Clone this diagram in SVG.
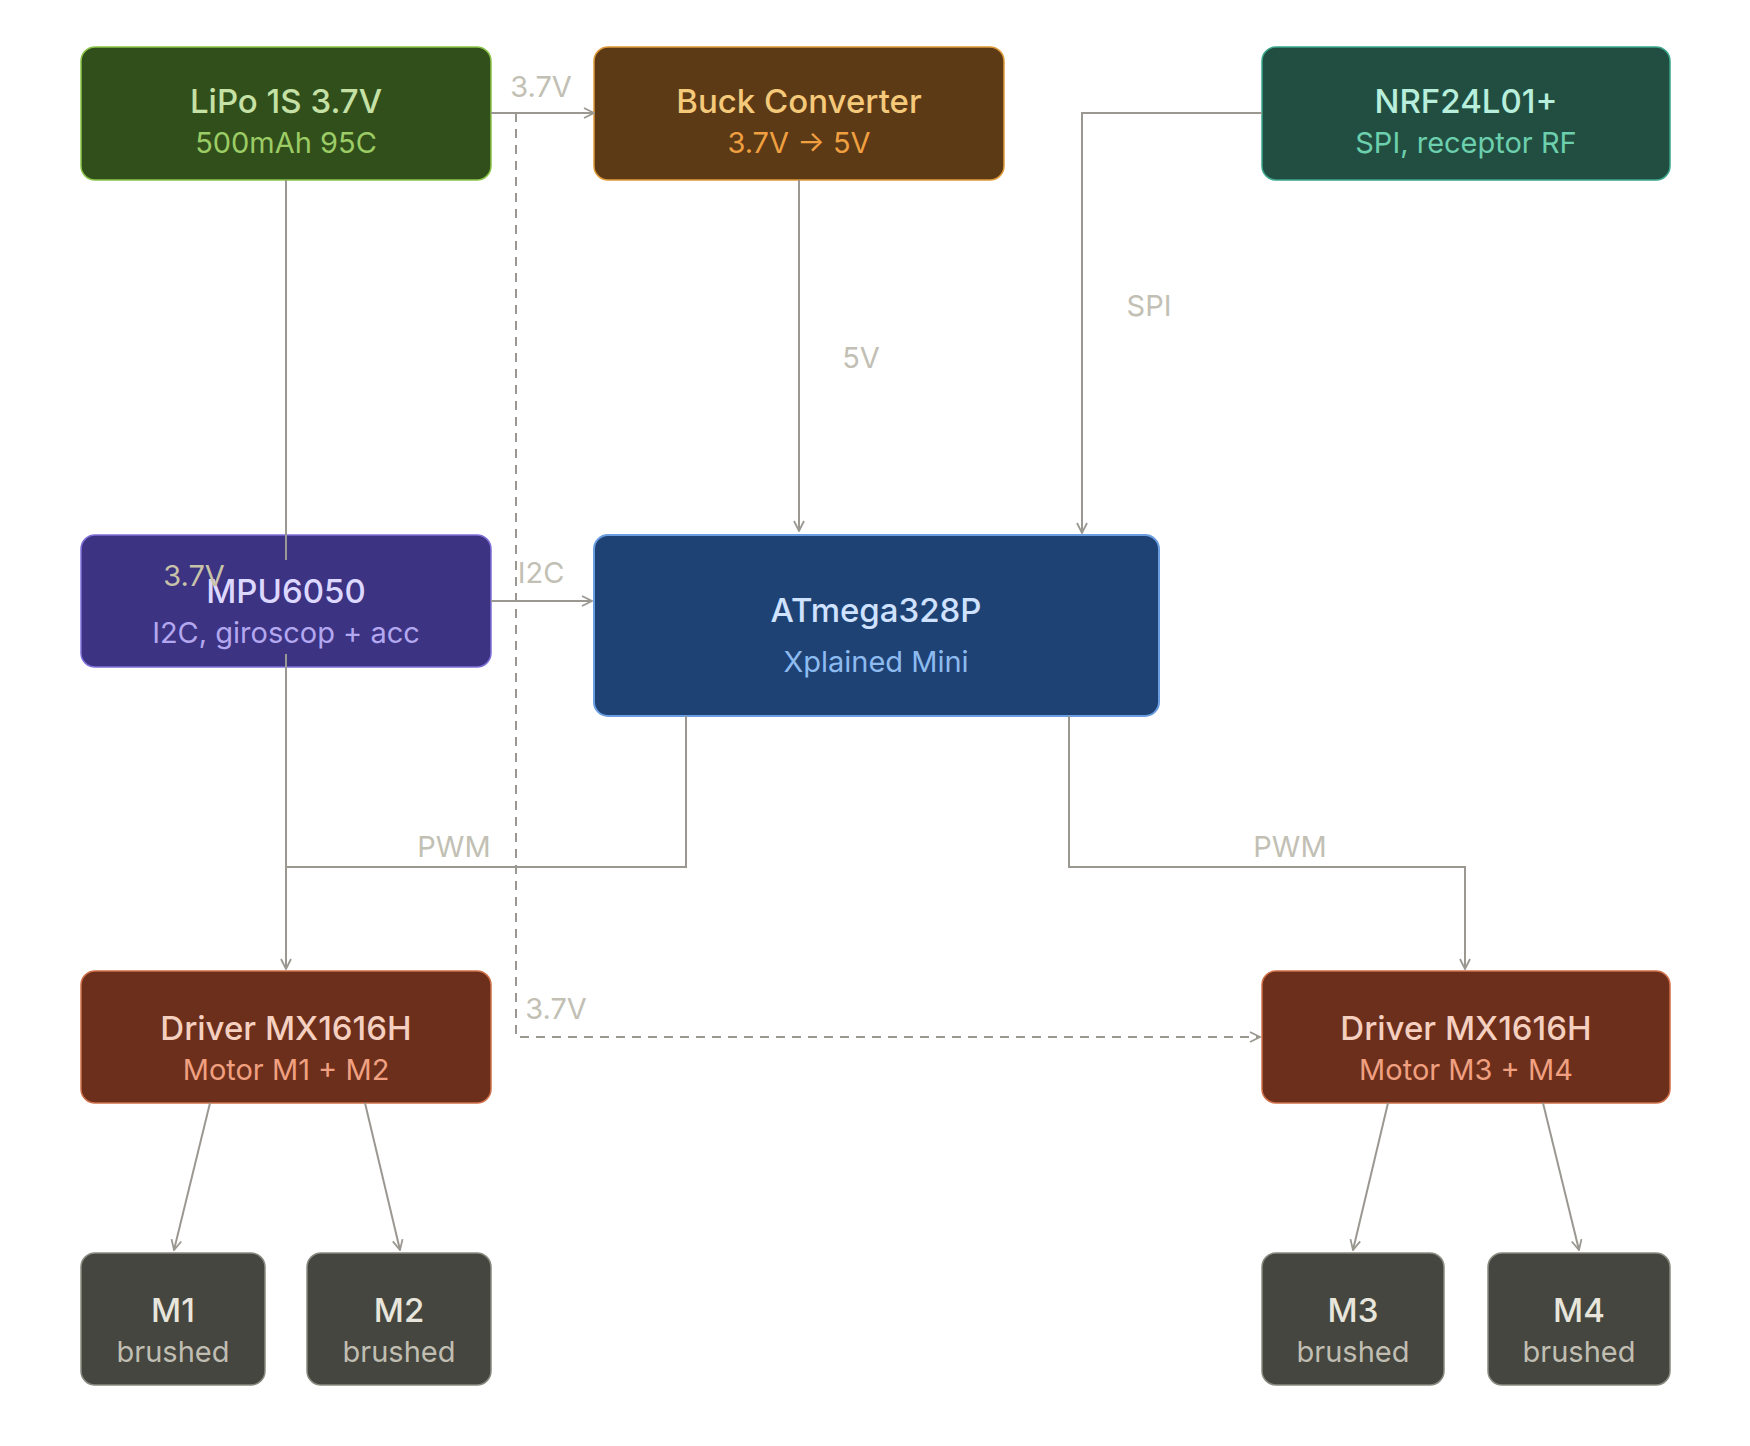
<svg xmlns="http://www.w3.org/2000/svg" width="1750" height="1446" viewBox="0 0 1750 1446">
<defs>
<marker id="ah" viewBox="0 0 12 12" refX="11" refY="6" markerWidth="12" markerHeight="12" markerUnits="userSpaceOnUse" orient="auto"><path d="M1,1 L11,6 L1,11" fill="none" stroke="#9a9890" stroke-width="1.8"/></marker>
</defs>
<style>
text{font-family:Inter,"Noto Sans","Liberation Sans",sans-serif;text-anchor:middle}
.t{font-size:33px;font-weight:500}
.s{font-size:29px}
.l{font-size:29px;fill:#c2bfb4}
.c{fill:none;stroke:#9a9890;stroke-width:2}
.d{stroke-dasharray:9 7}
</style>
<rect width="1750" height="1446" fill="#ffffff"/>
<g id="lipo"><rect x="81" y="47" width="410" height="133" rx="14" fill="#314f1a" stroke="#8bc34a" stroke-width="1.5"/><text class="t" x="286" y="113" fill="#c5e1a5">LiPo 1S 3.7V</text><text class="s" x="286" y="153" fill="#9ccc65">500mAh 95C</text></g>
<g id="buck"><rect x="594" y="47" width="410" height="133" rx="14" fill="#5c3a16" stroke="#e09a3a" stroke-width="1.5"/><text class="t" x="799" y="113" fill="#f5c97a">Buck Converter</text><text class="s" x="799" y="153" fill="#f0a040">3.7V → 5V</text></g>
<g id="nrf"><rect x="1262" y="47" width="408" height="133" rx="14" fill="#214e40" stroke="#3aa58a" stroke-width="1.5"/><text class="t" x="1466" y="113" fill="#b8efdc">NRF24L01+</text><text class="s" x="1466" y="153" fill="#6ccfae">SPI, receptor RF</text></g>
<g id="mpu"><rect x="81" y="535" width="410" height="132" rx="14" fill="#3c3382" stroke="#7e70d8" stroke-width="1.5"/><text class="t" x="286" y="603" fill="#dcd8ff">MPU6050</text><text class="s" x="286" y="643" fill="#b3a8f0">I2C, giroscop + acc</text></g>
<g id="atmega"><rect x="594" y="535" width="565" height="181" rx="14" fill="#1f4275" stroke="#6a9ee0" stroke-width="2"/><text class="t" x="876" y="622" fill="#cfe2ff">ATmega328P</text><text class="s" x="876" y="672" fill="#8dbbf0">Xplained Mini</text></g>
<g id="driver1"><rect x="81" y="971" width="410" height="132" rx="14" fill="#6b2f1b" stroke="#d0704a" stroke-width="1.5"/><text class="t" x="286" y="1040" fill="#f5d0c0">Driver MX1616H</text><text class="s" x="286" y="1080" fill="#f0a080">Motor M1 + M2</text></g>
<g id="driver2"><rect x="1262" y="971" width="408" height="132" rx="14" fill="#6b2f1b" stroke="#d0704a" stroke-width="1.5"/><text class="t" x="1466" y="1040" fill="#f5d0c0">Driver MX1616H</text><text class="s" x="1466" y="1080" fill="#f0a080">Motor M3 + M4</text></g>
<g id="m1"><rect x="81" y="1253" width="184" height="132" rx="14" fill="#45463f" stroke="#8a8a80" stroke-width="1.5"/><text class="t" x="173" y="1322" fill="#e8e6dc">M1</text><text class="s" x="173" y="1362" fill="#c0beb2">brushed</text></g>
<g id="m2"><rect x="307" y="1253" width="184" height="132" rx="14" fill="#45463f" stroke="#8a8a80" stroke-width="1.5"/><text class="t" x="399" y="1322" fill="#e8e6dc">M2</text><text class="s" x="399" y="1362" fill="#c0beb2">brushed</text></g>
<g id="m3"><rect x="1262" y="1253" width="182" height="132" rx="14" fill="#45463f" stroke="#8a8a80" stroke-width="1.5"/><text class="t" x="1353" y="1322" fill="#e8e6dc">M3</text><text class="s" x="1353" y="1362" fill="#c0beb2">brushed</text></g>
<g id="m4"><rect x="1488" y="1253" width="182" height="132" rx="14" fill="#45463f" stroke="#8a8a80" stroke-width="1.5"/><text class="t" x="1579" y="1322" fill="#e8e6dc">M4</text><text class="s" x="1579" y="1362" fill="#c0beb2">brushed</text></g>
<g id="connectors">
<path class="c" d="M491,113 H594" marker-end="url(#ah)"/>
<path class="c" d="M286,180 V560"/>
<path class="c" d="M799,180 V531" marker-end="url(#ah)"/>
<path class="c" d="M1262,113 H1082 V533" marker-end="url(#ah)"/>
<path class="c" d="M491,601 H592" marker-end="url(#ah)"/>
<path class="c" d="M686,716 V867 H286"/>
<path class="c" d="M286,654 V969" marker-end="url(#ah)"/>
<path class="c" d="M1069,716 V867 H1465 V969" marker-end="url(#ah)"/>
<path class="c d" d="M516,113 V1037 H1260" marker-end="url(#ah)"/>
<path class="c" d="M210,1103 L174,1250" marker-end="url(#ah)"/>
<path class="c" d="M365,1103 L400,1250" marker-end="url(#ah)"/>
<path class="c" d="M1388,1103 L1353,1250" marker-end="url(#ah)"/>
<path class="c" d="M1543,1103 L1579,1250" marker-end="url(#ah)"/>
<rect x="408" y="860" width="96" height="6" fill="#fff"/>
<rect x="1240" y="860" width="96" height="6" fill="#fff"/>
<text class="l" x="541" y="97">3.7V</text>
<text class="l" x="861" y="368">5V</text>
<text class="l" x="1149" y="316">SPI</text>
<text class="l" x="541" y="583">I2C</text>
<text class="l" x="454" y="857">PWM</text>
<text class="l" x="1290" y="857">PWM</text>
<text class="l" x="556" y="1019">3.7V</text>
<text class="l" x="194" y="586" style="fill:#c8c3a8">3.7V</text>
</g>
</svg>
